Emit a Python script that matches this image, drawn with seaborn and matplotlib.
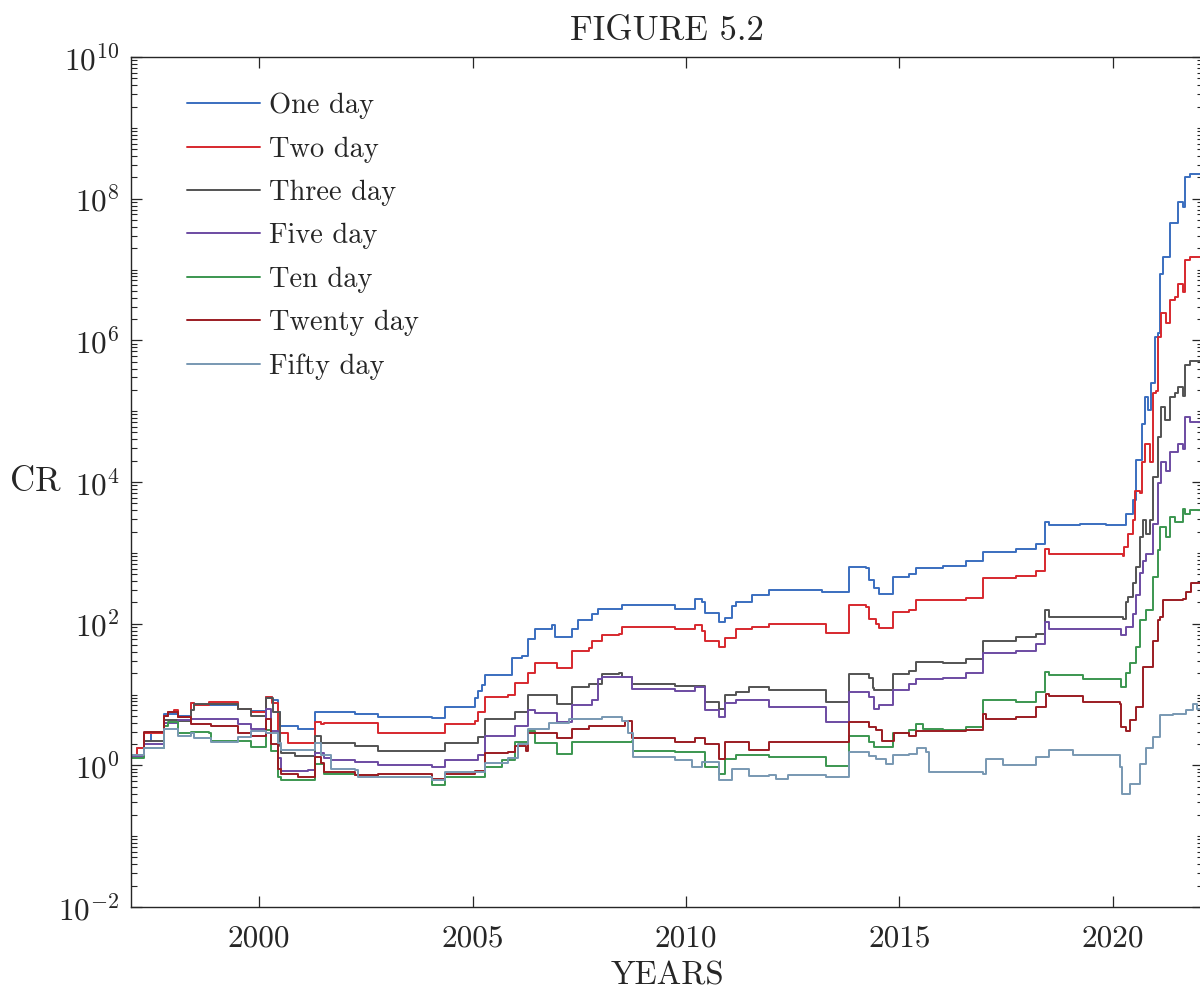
import numpy as np
import pandas as pd
import matplotlib
matplotlib.use("Agg")
import matplotlib.pyplot as plt
import matplotlib.ticker as mticker
import seaborn as sns

# ---- data: (year, log10 CR) breakpoints ----
ONE_DAY = [(1997.00, 0.15), (1997.15, 0.25), (1997.31, 0.35), (1997.46, 0.47), (1997.78, 0.73),
           (1998.09, 0.70), (1998.40, 0.88), (1998.48, 0.85), (1999.50, 0.80), (1999.81, 0.77),
           (2000.16, 0.97), (2000.30, 0.92), (2000.44, 0.75), (2000.48, 0.56), (2000.91, 0.52),
           (2001.30, 0.75), (2002.24, 0.73), (2002.79, 0.68), (2004.04, 0.67), (2004.35, 0.82),
           (2005.05, 0.95), (2005.13, 1.05), (2005.21, 1.13), (2005.29, 1.27), (2005.92, 1.51),
           (2006.15, 1.55), (2006.31, 1.79), (2006.46, 1.93), (2006.85, 1.98), (2006.93, 1.81),
           (2007.32, 1.93), (2007.48, 2.05), (2007.79, 2.14), (2007.95, 2.21), (2008.50, 2.27),
           (2009.75, 2.21), (2010.22, 2.35), (2010.38, 2.30), (2010.45, 2.15), (2010.77, 2.02),
           (2010.92, 2.08), (2011.08, 2.25), (2011.16, 2.30), (2011.55, 2.40), (2011.94, 2.47),
           (2013.19, 2.45), (2013.82, 2.80), (2014.21, 2.78), (2014.29, 2.61), (2014.41, 2.50),
           (2014.52, 2.42), (2014.84, 2.66), (2015.23, 2.70), (2015.38, 2.78), (2016.01, 2.82),
           (2016.56, 2.89), (2016.95, 3.01), (2017.73, 3.06), (2018.20, 3.12), (2018.40, 3.43),
           (2018.51, 3.39), (2019.22, 3.41), (2019.84, 3.39), (2020.31, 3.55), (2020.47, 3.74),
           (2020.55, 4.31), (2020.67, 4.82), (2020.74, 5.20), (2020.82, 5.01), (2020.90, 5.40),
           (2020.98, 6.05), (2021.06, 6.10), (2021.10, 6.94), (2021.17, 7.18), (2021.33, 7.65),
           (2021.53, 7.95), (2021.64, 7.88), (2021.68, 8.31), (2021.80, 8.35), (2022.11, 8.35)]

TWO_DAY = [(1997.00, 0.15), (1997.15, 0.25), (1997.31, 0.45), (1997.78, 0.70), (1997.86, 0.75),
           (1998.01, 0.78), (1998.09, 0.68), (1998.40, 0.88), (1998.48, 0.85), (1998.83, 0.89),
           (1999.50, 0.80), (1999.81, 0.75), (2000.16, 0.96), (2000.30, 0.88), (2000.44, 0.45),
           (2000.67, 0.31), (2000.91, 0.32), (2001.30, 0.61), (2001.46, 0.58), (2001.53, 0.60),
           (2002.79, 0.46), (2004.04, 0.45), (2004.35, 0.59), (2005.05, 0.62), (2005.13, 0.75),
           (2005.29, 0.97), (2005.84, 0.99), (2005.99, 1.16), (2006.31, 1.30), (2006.46, 1.44),
           (2006.97, 1.37), (2007.32, 1.62), (2007.72, 1.65), (2007.79, 1.75), (2008.03, 1.84),
           (2008.42, 1.85), (2008.50, 1.95), (2009.75, 1.93), (2010.22, 1.98), (2010.38, 1.90),
           (2010.45, 1.76), (2010.77, 1.67), (2010.92, 1.80), (2011.16, 1.92), (2011.55, 1.95),
           (2011.94, 2.00), (2013.27, 1.87), (2013.82, 2.26), (2014.21, 2.24), (2014.29, 2.07),
           (2014.45, 2.00), (2014.52, 1.94), (2014.84, 2.16), (2015.23, 2.20), (2015.38, 2.33),
           (2016.01, 2.34), (2016.56, 2.36), (2016.95, 2.64), (2017.73, 2.68), (2018.20, 2.75),
           (2018.40, 3.06), (2018.51, 2.99), (2020.24, 2.96), (2020.27, 3.08), (2020.35, 3.27),
           (2020.47, 3.46), (2020.51, 3.88), (2020.63, 3.84), (2020.67, 4.28), (2020.74, 4.54),
           (2020.86, 4.28), (2020.94, 5.25), (2021.02, 5.29), (2021.06, 6.05), (2021.13, 6.38),
           (2021.25, 6.24), (2021.33, 6.57), (2021.45, 6.61), (2021.53, 6.80), (2021.64, 6.68),
           (2021.68, 7.13), (2021.80, 7.18), (2022.11, 7.18)]

THREE_DAY = [(1997.00, 0.15), (1997.31, 0.35), (1997.78, 0.64), (1998.09, 0.62), (1998.40, 0.78),
             (1998.48, 0.86), (1999.50, 0.80), (1999.81, 0.70), (2000.16, 0.95), (2000.32, 0.75),
             (2000.48, 0.28), (2000.52, 0.17), (2000.83, 0.13), (2001.30, 0.42), (2001.46, 0.31),
             (2002.24, 0.27), (2002.79, 0.20), (2004.04, 0.20), (2004.35, 0.31), (2005.13, 0.40),
             (2005.29, 0.66), (2005.99, 0.75), (2006.31, 0.99), (2006.97, 0.86), (2007.32, 1.11),
             (2007.72, 1.15), (2008.03, 1.29), (2008.42, 1.31), (2008.50, 1.25), (2008.73, 1.15),
             (2009.75, 1.12), (2010.45, 0.89), (2010.77, 0.80), (2010.92, 0.99), (2011.16, 1.03),
             (2011.47, 1.10), (2011.94, 1.06), (2013.27, 0.89), (2013.82, 1.29), (2014.29, 1.24),
             (2014.37, 1.09), (2014.41, 1.06), (2014.84, 1.29), (2015.23, 1.33), (2015.38, 1.46),
             (2016.01, 1.44), (2016.56, 1.50), (2016.95, 1.76), (2017.73, 1.81), (2018.20, 1.85),
             (2018.40, 2.19), (2018.51, 2.09), (2020.24, 2.07), (2020.31, 2.30), (2020.35, 2.38),
             (2020.47, 2.57), (2020.55, 2.80), (2020.63, 3.22), (2020.71, 3.46), (2020.78, 3.27),
             (2020.86, 3.46), (2020.94, 4.07), (2021.06, 4.64), (2021.13, 5.06), (2021.21, 4.87),
             (2021.33, 5.20), (2021.45, 5.25), (2021.53, 5.34), (2021.64, 5.22), (2021.68, 5.65),
             (2021.80, 5.71), (2022.11, 5.71)]

FIVE_DAY = [(1997.00, 0.12), (1997.31, 0.30), (1997.78, 0.60), (1998.09, 0.64), (1998.40, 0.66),
            (1998.83, 0.65), (1999.50, 0.58), (1999.81, 0.52), (2000.16, 0.80), (2000.28, 0.48),
            (2000.44, 0.11), (2000.52, -0.08), (2001.14, -0.06), (2001.30, 0.18), (2001.53, 0.10),
            (2001.69, 0.07), (2002.24, 0.05), (2002.79, 0.00), (2004.04, -0.03), (2004.35, 0.07),
            (2005.13, 0.15), (2005.29, 0.42), (2005.84, 0.41), (2005.99, 0.55), (2006.31, 0.78),
            (2006.46, 0.74), (2006.97, 0.61), (2007.32, 0.85), (2007.79, 0.92), (2007.95, 1.22),
            (2008.03, 1.25), (2008.73, 1.08), (2009.75, 1.05), (2010.22, 1.10), (2010.45, 0.78),
            (2010.77, 0.68), (2010.92, 0.88), (2011.16, 0.92), (2011.94, 0.82), (2013.27, 0.61),
            (2013.82, 1.03), (2014.29, 0.97), (2014.41, 0.80), (2014.52, 0.85), (2014.84, 1.06),
            (2015.23, 1.15), (2015.38, 1.22), (2016.01, 1.24), (2016.56, 1.30), (2016.95, 1.58),
            (2017.73, 1.62), (2018.20, 1.72), (2018.40, 2.02), (2018.51, 1.93), (2020.16, 1.93),
            (2020.20, 1.84), (2020.31, 1.95), (2020.47, 2.14), (2020.55, 2.40), (2020.63, 2.71),
            (2020.71, 2.89), (2020.78, 2.99), (2020.94, 3.41), (2021.06, 3.98), (2021.13, 4.28),
            (2021.25, 4.16), (2021.33, 4.42), (2021.53, 4.54), (2021.64, 4.47), (2021.68, 4.92),
            (2021.80, 4.85), (2022.11, 4.85)]

TEN_DAY = [(1997.00, 0.10), (1997.31, 0.25), (1997.78, 0.55), (1997.86, 0.61), (1998.09, 0.45),
           (1998.40, 0.47), (1998.83, 0.45), (1998.87, 0.35), (1999.81, 0.26), (2000.16, 0.50),
           (2000.28, 0.20), (2000.44, -0.16), (2000.52, -0.21), (2001.30, 0.02), (2001.53, -0.12),
           (2002.24, -0.14), (2002.79, -0.16), (2004.04, -0.28), (2004.35, -0.16), (2005.29, -0.02),
           (2005.68, 0.07), (2005.99, 0.33), (2006.31, 0.49), (2006.46, 0.31), (2006.97, 0.16),
           (2007.32, 0.33), (2008.73, 0.35), (2008.77, 0.20), (2009.75, 0.19), (2010.45, -0.02),
           (2010.77, -0.12), (2010.92, 0.09), (2011.16, 0.14), (2011.94, 0.12), (2013.27, -0.01),
           (2013.82, 0.41), (2014.29, 0.33), (2014.41, 0.26), (2014.84, 0.45), (2015.23, 0.50),
           (2015.38, 0.59), (2015.54, 0.52), (2016.01, 0.50), (2016.56, 0.54), (2016.95, 0.92),
           (2017.73, 0.90), (2018.20, 1.04), (2018.40, 1.32), (2018.51, 1.27), (2019.30, 1.22),
           (2020.16, 1.22), (2020.20, 1.11), (2020.31, 1.30), (2020.39, 1.45), (2020.55, 1.67),
           (2020.63, 2.05), (2020.78, 2.19), (2020.94, 2.66), (2021.06, 3.04), (2021.10, 3.36),
           (2021.25, 3.22), (2021.33, 3.51), (2021.45, 3.44), (2021.64, 3.62), (2021.68, 3.55),
           (2021.80, 3.61), (2022.11, 3.61)]

TWENTY_DAY = [(1997.00, 0.15), (1997.31, 0.47), (1997.78, 0.70), (1997.86, 0.75), (1998.09, 0.68),
              (1998.40, 0.58), (1998.87, 0.56), (1999.50, 0.45), (1999.81, 0.41), (2000.16, 0.65),
              (2000.28, 0.30), (2000.44, -0.05), (2000.52, -0.12), (2000.91, -0.16), (2001.30, 0.12),
              (2001.46, 0.03), (2001.53, -0.09), (2002.24, -0.14), (2002.79, -0.12), (2004.04, -0.19),
              (2004.35, -0.12), (2005.05, -0.08), (2005.29, 0.17), (2005.84, 0.19), (2005.99, 0.28),
              (2006.25, 0.20), (2006.31, 0.45), (2006.97, 0.38), (2007.32, 0.52), (2007.72, 0.56),
              (2008.58, 0.63), (2008.73, 0.38), (2009.75, 0.33), (2010.22, 0.38), (2010.45, 0.30),
              (2010.77, 0.09), (2010.92, 0.33), (2011.47, 0.21), (2011.94, 0.33), (2013.82, 0.61),
              (2014.29, 0.54), (2014.45, 0.50), (2014.60, 0.35), (2014.88, 0.45), (2015.23, 0.42),
              (2015.38, 0.49), (2016.56, 0.50), (2016.95, 0.73), (2017.03, 0.66), (2017.73, 0.68),
              (2018.20, 0.82), (2018.44, 1.01), (2018.51, 0.98), (2019.30, 0.89), (2020.16, 0.87),
              (2020.20, 0.54), (2020.31, 0.49), (2020.39, 0.64), (2020.55, 0.82), (2020.71, 1.39),
              (2020.94, 1.76), (2021.06, 2.05), (2021.10, 2.09), (2021.17, 2.33), (2021.64, 2.35),
              (2021.72, 2.45), (2021.84, 2.57), (2022.11, 2.57)]

FIFTY_DAY = [(1997.00, 0.15), (1997.31, 0.25), (1997.78, 0.52), (1998.09, 0.42), (1998.40, 0.45),
             (1998.48, 0.38), (1998.87, 0.33), (1999.50, 0.40), (1999.81, 0.49), (2000.16, 0.45),
             (2000.44, 0.31), (2000.52, 0.21), (2001.22, 0.21), (2001.30, 0.31), (2001.46, 0.15),
             (2001.69, -0.05), (2002.24, -0.07), (2002.32, -0.16), (2004.04, -0.20), (2004.35, -0.10),
             (2005.29, 0.03), (2005.84, 0.10), (2006.07, 0.30), (2006.31, 0.52), (2006.78, 0.60),
             (2007.25, 0.66), (2008.03, 0.68), (2008.50, 0.62), (2008.65, 0.45), (2008.77, 0.12),
             (2009.75, 0.07), (2010.14, -0.02), (2010.38, 0.05), (2010.77, -0.21), (2011.08, -0.05),
             (2011.47, -0.15), (2011.94, -0.13), (2012.10, -0.19), (2012.40, -0.14), (2013.27, -0.16),
             (2013.82, 0.19), (2014.29, 0.13), (2014.45, 0.09), (2014.68, 0.02), (2014.84, 0.14),
             (2015.23, 0.16), (2015.42, 0.24), (2015.62, 0.19), (2015.70, -0.09), (2016.95, -0.12),
             (2017.03, 0.09), (2017.42, 0.00), (2018.20, 0.12), (2018.51, 0.21), (2019.06, 0.14),
             (2020.00, 0.14), (2020.16, -0.02), (2020.22, -0.40), (2020.39, -0.26), (2020.63, 0.02),
             (2020.78, 0.24), (2020.94, 0.40), (2021.10, 0.71), (2021.41, 0.73), (2021.72, 0.78),
             (2021.88, 0.87), (2021.96, 0.80), (2022.11, 0.80)]

SERIES = ["One day", "Two day", "Three day", "Five day", "Ten day", "Twenty day", "Fifty day"]
COLORS = ["#3a6ebf", "#d7282e", "#535353", "#6c4ba2", "#3b9650", "#9b1c22", "#7898b2"]
X_TICKS = [2000, 2005, 2010, 2015, 2020]

rows = []
for name, pts in zip(SERIES, [ONE_DAY, TWO_DAY, THREE_DAY, FIVE_DAY, TEN_DAY, TWENTY_DAY, FIFTY_DAY]):
    for yr, e in pts:
        rows.append({"year": yr, "CR": 10.0 ** e, "series": name})
df = pd.DataFrame(rows)

sns.set_style("ticks")
plt.rcParams["font.family"] = ["cmr10", "DejaVu Serif"]
plt.rcParams["mathtext.fontset"] = "cm"
plt.rcParams["axes.formatter.use_mathtext"] = True
plt.rcParams["axes.unicode_minus"] = False

TXT = "#262626"
fig = plt.figure(figsize=(12, 9.92), dpi=100)
ax = fig.add_axes([131 / 1200, 1 - 907 / 992, (1203 - 131) / 1200, (907 - 57) / 992])

sns.lineplot(data=df, x="year", y="CR", hue="series", hue_order=SERIES,
             palette=dict(zip(SERIES, COLORS)), estimator=None, errorbar=None,
             drawstyle="steps-post", linewidth=1.4, ax=ax)

ax.set_yscale("log")
ax.set_ylim(1e-2, 1e10)
ax.set_xlim(1997.0, 2022.11)

ax.yaxis.set_major_locator(mticker.FixedLocator([10.0 ** k for k in range(-2, 11, 2)]))
ax.yaxis.set_major_formatter(mticker.LogFormatterSciNotation())
minor = [m * 10.0 ** k for k in range(-2, 10) for m in range(1, 10)
         if not (m == 1 and k % 2 == 0)]
ax.yaxis.set_minor_locator(mticker.FixedLocator(minor))
ax.yaxis.set_minor_formatter(mticker.NullFormatter())
ax.set_xticks(X_TICKS)
ax.set_xticklabels([str(t) for t in X_TICKS])

for s in ax.spines.values():
    s.set_visible(True)
    s.set_color(TXT)
    s.set_linewidth(1.0)
ax.tick_params(which="both", direction="in", top=True, right=True, colors=TXT,
               labelsize=22.5, labelcolor=TXT)
ax.tick_params(which="major", length=8, width=0.9, pad=8)
ax.tick_params(which="minor", length=4.5, width=0.8)
ax.tick_params(axis="x", which="major", pad=13)

ax.set_title("FIGURE 5.2", fontsize=25, color=TXT, pad=12)
ax.set_xlabel("YEARS", fontsize=23.5, color=TXT, labelpad=6)
ax.set_ylabel("CR", fontsize=25, color=TXT, rotation=0, ha="center", va="center")
ax.yaxis.set_label_coords(-0.0895, 0.5)

handles, labels = ax.get_legend_handles_labels()
leg = ax.legend(handles, labels, loc="upper left", bbox_to_anchor=(0.052, 0.958),
                frameon=False, fontsize=20.5, handlelength=2.56, handletextpad=0.32,
                labelspacing=0.6, borderpad=0, borderaxespad=0)
for t in leg.get_texts():
    t.set_color(TXT)
for h in leg.get_lines():
    h.set_linewidth(1.4)

fig.savefig("out.png", dpi=100, facecolor="white")
